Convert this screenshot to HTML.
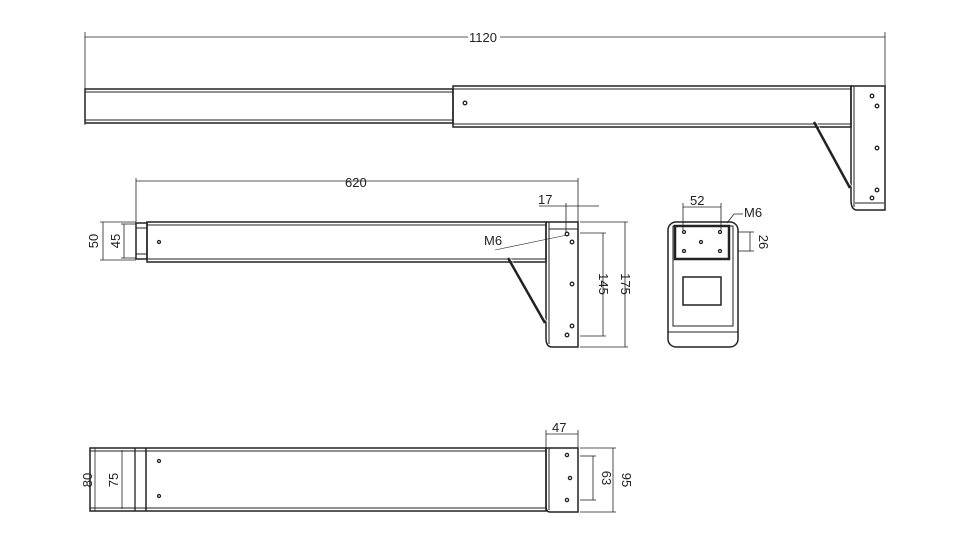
<!DOCTYPE html>
<html><head><meta charset="utf-8"><style>
body{margin:0;background:#fff}
svg{display:block}
text{font-family:"Liberation Sans",sans-serif;font-size:13px;fill:#222}
</style></head><body>
<svg width="959" height="537" viewBox="0 0 959 537" xmlns="http://www.w3.org/2000/svg">
<rect width="959" height="537" fill="#fff"/>
<g stroke="#222" fill="none" stroke-width="1">
<line x1="85" y1="37" x2="885" y2="37" stroke-width="0.8"/>
<line x1="85" y1="32" x2="85" y2="125" stroke-width="0.8"/>
<line x1="885" y1="32" x2="885" y2="88" stroke-width="0.8"/>
<rect x="85" y="89" width="368" height="34" stroke-width="1.5"/>
<line x1="85" y1="92" x2="453" y2="92"/>
<line x1="85" y1="120" x2="453" y2="120"/>
<rect x="453" y="86" width="398" height="41" stroke-width="1.5"/>
<line x1="453" y1="89" x2="851" y2="89"/>
<line x1="453" y1="124" x2="851" y2="124"/>
<path d="M851 86 H885 V210 H857 Q851 210 851 200 Z" stroke-width="1.5"/>
<line x1="854" y1="86" x2="854" y2="207"/>
<line x1="855" y1="203" x2="884" y2="203"/>
<line x1="814" y1="122" x2="850" y2="188" stroke-width="2.5"/>
<line x1="816" y1="121" x2="852" y2="187" stroke-width="0.6" stroke="#fff"/>
<line x1="136" y1="181" x2="578" y2="181" stroke-width="0.8"/>
<line x1="136" y1="178" x2="136" y2="222" stroke-width="0.8"/>
<line x1="578" y1="178" x2="578" y2="222" stroke-width="0.8"/>
<rect x="136" y="223" width="11" height="36" stroke-width="1.5"/>
<line x1="136" y1="228" x2="147" y2="228"/>
<line x1="136" y1="254" x2="147" y2="254"/>
<rect x="147" y="222" width="399" height="40" stroke-width="1.5"/>
<line x1="147" y1="225" x2="546" y2="225"/>
<line x1="147" y1="259" x2="546" y2="259"/>
<path d="M546 222 H578 V347 H552 Q546 347 546 338 Z" stroke-width="1.5"/>
<line x1="549" y1="222" x2="549" y2="344"/>
<line x1="549" y1="229" x2="578" y2="229"/>
<line x1="508" y1="258" x2="545" y2="323" stroke-width="2.5"/>
<line x1="510" y1="257" x2="547" y2="322" stroke-width="0.6" stroke="#fff"/>
<line x1="495" y1="250" x2="567" y2="235" stroke-width="0.6"/>
<line x1="539" y1="206" x2="599" y2="206" stroke-width="0.8"/>
<line x1="566" y1="203" x2="566" y2="232" stroke-width="0.8"/>
<line x1="580" y1="233" x2="606" y2="233" stroke-width="0.8"/>
<line x1="580" y1="336" x2="606" y2="336" stroke-width="0.8"/>
<line x1="603" y1="233" x2="603" y2="336" stroke-width="0.8"/>
<line x1="580" y1="222" x2="628" y2="222" stroke-width="0.8"/>
<line x1="580" y1="347" x2="628" y2="347" stroke-width="0.8"/>
<line x1="625" y1="222" x2="625" y2="347" stroke-width="0.8"/>
<line x1="100" y1="222" x2="136" y2="222" stroke-width="0.8"/>
<line x1="100" y1="260" x2="136" y2="260" stroke-width="0.8"/>
<line x1="103" y1="222" x2="103" y2="260" stroke-width="0.8"/>
<line x1="121" y1="224" x2="136" y2="224" stroke-width="0.8"/>
<line x1="121" y1="258" x2="136" y2="258" stroke-width="0.8"/>
<line x1="124" y1="224" x2="124" y2="258" stroke-width="0.8"/>
<rect x="668" y="222" width="70" height="125" rx="8" stroke-width="1.5"/>
<path d="M673 226 H733 V326 H673 Z"/>
<rect x="675" y="226" width="54" height="33" stroke-width="2.5"/>
<rect x="683" y="277" width="38" height="28" stroke-width="1.5"/>
<line x1="668" y1="332" x2="738" y2="332"/>
<line x1="683" y1="207" x2="721" y2="207" stroke-width="0.8"/>
<line x1="683" y1="203" x2="683" y2="230" stroke-width="0.8"/>
<line x1="721" y1="203" x2="721" y2="230" stroke-width="0.8"/>
<path d="M727 223 L734 214 H743" stroke-width="0.8"/>
<line x1="738" y1="232" x2="754" y2="232" stroke-width="0.8"/>
<line x1="738" y1="251" x2="754" y2="251" stroke-width="0.8"/>
<line x1="750" y1="232" x2="750" y2="251" stroke-width="0.8"/>
<rect x="90" y="448" width="456" height="63" stroke-width="1.5"/>
<line x1="90" y1="451" x2="546" y2="451"/>
<line x1="90" y1="508" x2="546" y2="508"/>
<line x1="135" y1="448" x2="135" y2="511" stroke-width="1.3"/>
<line x1="146" y1="448" x2="146" y2="511" stroke-width="1.5"/>
<path d="M546 448 H578 V512 H550 Q546 512 546 506 Z" stroke-width="1.5"/>
<line x1="549" y1="448" x2="549" y2="510"/>
<line x1="546" y1="434" x2="578" y2="434" stroke-width="0.8"/>
<line x1="546" y1="430" x2="546" y2="448" stroke-width="0.8"/>
<line x1="578" y1="430" x2="578" y2="448" stroke-width="0.8"/>
<line x1="580" y1="456" x2="596" y2="456" stroke-width="0.8"/>
<line x1="580" y1="500" x2="596" y2="500" stroke-width="0.8"/>
<line x1="593" y1="456" x2="593" y2="500" stroke-width="0.8"/>
<line x1="580" y1="448" x2="616" y2="448" stroke-width="0.8"/>
<line x1="580" y1="512" x2="616" y2="512" stroke-width="0.8"/>
<line x1="613" y1="448" x2="613" y2="512" stroke-width="0.8"/>
<line x1="92" y1="448" x2="98" y2="448" stroke-width="0.8"/>
<line x1="92" y1="511" x2="98" y2="511" stroke-width="0.8"/>
<line x1="95" y1="448" x2="95" y2="511" stroke-width="0.8"/>
<line x1="122" y1="450" x2="122" y2="509" stroke-width="0.8"/>
</g>
<g fill="#fff" stroke="#222" stroke-width="1.3">
<circle cx="465" cy="103" r="1.8"/><circle cx="872" cy="96" r="1.8"/><circle cx="877" cy="106" r="1.8"/><circle cx="877" cy="148" r="1.8"/><circle cx="877" cy="190" r="1.8"/><circle cx="872" cy="198" r="1.8"/>
<circle cx="159" cy="242" r="1.5"/>
<circle cx="567" cy="234" r="1.8"/><circle cx="572" cy="242" r="1.8"/><circle cx="572" cy="284" r="1.8"/><circle cx="572" cy="326" r="1.8"/><circle cx="567" cy="335" r="1.8"/>
<circle cx="684" cy="232" r="1.5"/><circle cx="720" cy="232" r="1.5"/><circle cx="701" cy="242" r="1.5"/><circle cx="684" cy="251" r="1.5"/><circle cx="720" cy="251" r="1.5"/>
<circle cx="159" cy="461" r="1.5"/><circle cx="159" cy="496" r="1.5"/>
<circle cx="567" cy="455" r="1.6"/><circle cx="570" cy="478" r="1.6"/><circle cx="567" cy="500" r="1.6"/>
</g>
<rect x="468" y="30" width="32" height="14" fill="#fff"/>
<text x="469" y="42">1120</text>
<text x="345" y="187">620</text>
<text x="538" y="204">17</text>
<text x="484" y="245">M6</text>
<text x="690" y="205">52</text>
<text x="744" y="217">M6</text>
<text x="552" y="432">47</text>
<g>
<text transform="translate(597,284) rotate(90)" text-anchor="middle" dy="-2">145</text>
<text transform="translate(619,284) rotate(90)" text-anchor="middle" dy="-2">175</text>
<text transform="translate(98,241) rotate(-90)" text-anchor="middle">50</text>
<text transform="translate(120,241) rotate(-90)" text-anchor="middle">45</text>
<text transform="translate(757,242) rotate(90)" text-anchor="middle" dy="-2">26</text>
<text transform="translate(92,480) rotate(-90)" text-anchor="middle">80</text>
<text transform="translate(118,480) rotate(-90)" text-anchor="middle">75</text>
<text transform="translate(600,478) rotate(90)" text-anchor="middle" dy="-2">63</text>
<text transform="translate(620,480) rotate(90)" text-anchor="middle" dy="-2">95</text>
</g>
</svg>
</body></html>
